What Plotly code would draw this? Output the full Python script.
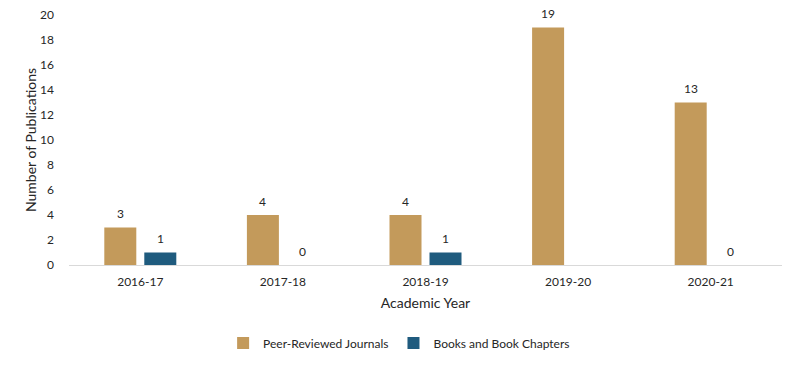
import plotly.graph_objects as go

years = ["2016-17", "2017-18", "2018-19", "2019-20", "2020-21"]
journals = [3, 4, 4, 19, 13]
books = [1, 0, 1, None, 0]

gold = "#C39A5B"
blue = "#1F5B7E"
font_family = "Lato, 'Open Sans', sans-serif"
txt = "#262626"

fig = go.Figure()
fig.add_trace(go.Bar(
    x=years, y=journals, name="Peer-Reviewed Journals",
    marker=dict(color=gold, line=dict(width=0)),
))
fig.add_trace(go.Bar(
    x=years, y=books, name="Books and Book Chapters",
    marker=dict(color=blue, line=dict(width=0)),
))

# data labels placed above each bar via the data coordinates
for series, shift in ((journals, -20), (books, 20)):
    for yr, v in zip(years, series):
        if v is None:
            continue
        fig.add_annotation(x=yr, y=v, text=str(v), showarrow=False,
                           xshift=shift, yshift=14, yanchor="middle",
                           font=dict(size=12, color=txt))

fig.update_layout(
    width=800, height=366,
    margin=dict(l=69, r=18, t=15, b=101, autoexpand=False),
    paper_bgcolor="white", plot_bgcolor="white",
    barmode="group", bargap=0.439, bargroupgap=0.2,
    font=dict(family=font_family, size=12, color=txt),
    showlegend=True,
    legend=dict(orientation="h", x=0.463, xanchor="center", y=-0.312, yanchor="middle",
                font=dict(size=12, color=txt), itemwidth=30, traceorder="normal"),
    xaxis=dict(
        automargin=False,
        showline=True, linecolor="#D9D9D9", linewidth=1, ticks="",
        tickfont=dict(size=12, color=txt), ticklabelstandoff=6,
        title=dict(text="Academic Year", font=dict(size=14, color=txt), standoff=9),
    ),
    yaxis=dict(
        automargin=False,
        range=[0, 20], dtick=2, showgrid=False, zeroline=False, showline=False,
        tickfont=dict(size=12, color=txt), ticks="", ticklen=0, ticklabelstandoff=14,
        title=dict(text="Number of Publications", font=dict(size=14, color=txt), standoff=0),
    ),
)

fig.write_html("out.html", config={"displayModeBar": False},
               post_script="document.body.style.margin='0';")
